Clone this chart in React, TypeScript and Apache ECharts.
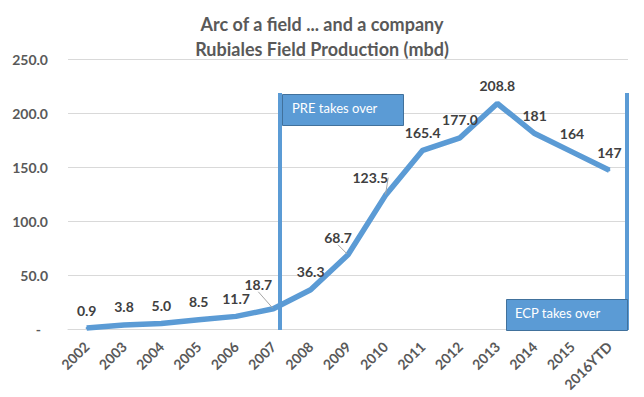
import React, { useEffect, useRef } from "react";
import * as echarts from "echarts";

const categories = ["2002", "2003", "2004", "2005", "2006", "2007", "2008", "2009", "2010", "2011", "2012", "2013", "2014", "2015", "2016YTD"];
const production = [0.9, 3.8, 5.0, 8.5, 11.7, 18.7, 36.3, 68.7, 123.5, 165.4, 177.0, 208.8, 181, 164, 147];
const pointLabels = ["0.9", "3.8", "5.0", "8.5", "11.7", "18.7", "36.3", "68.7", "123.5", "165.4", "177.0", "208.8", "181", "164", "147"];
const titleLines = ["Arc of a field ... and a company", "Rubiales Field Production (mbd)"];
const annotations = ["PRE takes over", "ECP takes over"];
const leaderIdx = [5, 7, 8];

const FONT = "Lato, 'Open Sans', sans-serif";
const BLUE = "#5B9BD5";

export default function App() {
  const ref = useRef<HTMLDivElement>(null);
  useEffect(() => {
    const chart = echarts.init(ref.current!, null, { renderer: "svg" });
    const shifts: Record<number, [number, number]> = { 5: [-15, -6], 7: [-10, 1], 8: [-15, 0] };
    chart.setOption({
      animation: false,
      textStyle: { fontFamily: FONT },
      title: {
        text: titleLines.join("\n"),
        left: "center",
        top: 6,
        textStyle: { fontFamily: FONT, fontSize: 18, fontWeight: "bold", color: "#595959", lineHeight: 25 },
      },
      grid: { left: 68, right: 16, top: 59, bottom: 68 },
      xAxis: {
        type: "category",
        data: categories,
        boundaryGap: true,
        axisLine: { show: true, lineStyle: { color: "#D9D9D9" } },
        axisTick: { show: false },
        axisLabel: { rotate: 45, margin: 15, fontFamily: FONT, fontSize: 14, fontWeight: "bold", color: "#595959", interval: 0 },
      },
      yAxis: {
        type: "value",
        min: 0,
        max: 250,
        interval: 50,
        axisLine: { show: false },
        axisTick: { show: false },
        splitLine: { lineStyle: { color: "#D9D9D9" } },
        axisLabel: {
          margin: 20,
          fontFamily: FONT,
          fontSize: 14,
          fontWeight: "bold",
          color: "#595959",
          formatter: (v: number) => (v === 0 ? "{d|-}" : v.toFixed(1)),
          rich: { d: { padding: [0, 7, 0, 0], fontFamily: FONT, fontSize: 14, fontWeight: "bold", color: "#595959" } },
        },
      },
      series: [
        {
          type: "line",
          data: production.map((v, i) => ({
            value: v,
            label: { formatter: pointLabels[i] },
            labelLine: leaderIdx.includes(i) ? { show: true, lineStyle: { color: "#A6A6A6", width: 1 } } : { show: false },
          })),
          symbol: "circle",
          symbolSize: 2,
          itemStyle: { color: BLUE },
          lineStyle: { color: BLUE, width: 5.5 },
          label: {
            show: true,
            position: "top",
            distance: 10,
            fontFamily: FONT,
            fontSize: 14,
            fontWeight: "bold",
            color: "#404040",
          },
          labelLayout: (p: any) => {
            const s = shifts[p.dataIndex];
            return s ? { dx: s[0], dy: s[1] } : {};
          },
          z: 3,
        },
      ],
      graphic: [
        { type: "rect", left: 278, top: 93, shape: { width: 4, height: 237 }, style: { fill: BLUE }, z: 10 },
        { type: "rect", left: 625, top: 93, shape: { width: 4, height: 237 }, style: { fill: BLUE }, z: 10 },
        {
          type: "rect",
          left: 282,
          top: 94,
          shape: { width: 121, height: 31 },
          style: { fill: BLUE, stroke: "#41719C", lineWidth: 1 },
          z: 10,
        },
        {
          type: "text",
          left: 292,
          top: 101,
          style: { text: annotations[0], fill: "#FFFFFF", font: `13px ${FONT}` },
          z: 11,
        },
        {
          type: "rect",
          left: 506,
          top: 299,
          shape: { width: 121, height: 31 },
          style: { fill: BLUE, stroke: "#41719C", lineWidth: 1 },
          z: 10,
        },
        {
          type: "text",
          left: 515,
          top: 306,
          style: { text: annotations[1], fill: "#FFFFFF", font: `13px ${FONT}` },
          z: 11,
        },
      ],
    });
    return () => chart.dispose();
  }, []);
  return <div ref={ref} style={{ width: 644, height: 397, position: "absolute", left: 0, top: 0 }} />;
}
